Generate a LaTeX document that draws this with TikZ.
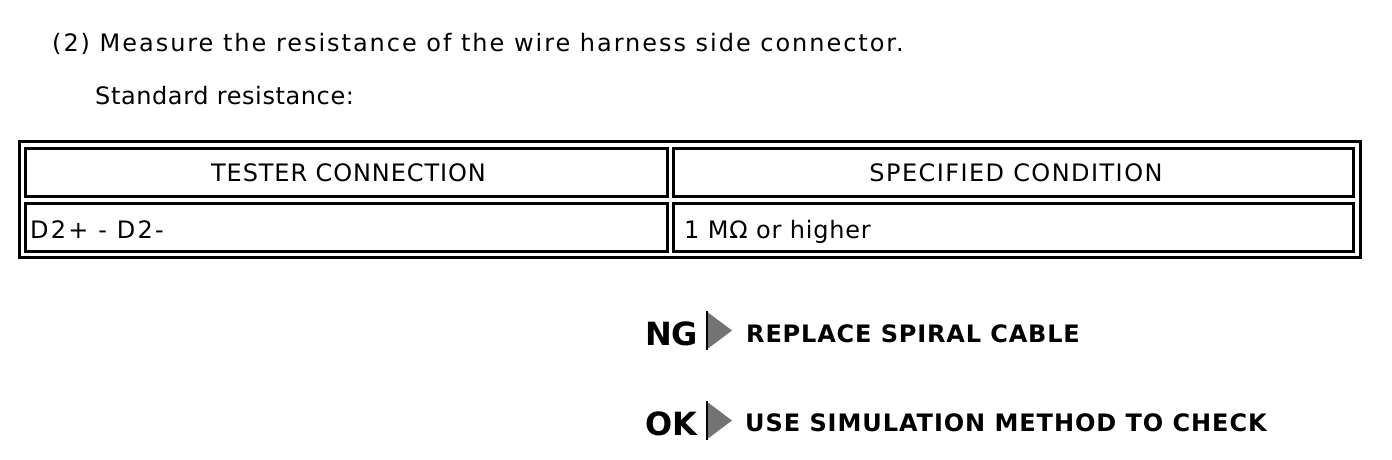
\documentclass[tikz,border=0pt]{standalone}
\usepackage{fontspec}
\setmainfont{DejaVu Sans}
\newcommand{\ls}[1]{\addfontfeature{LetterSpace=#1}}
\begin{document}
\begin{tikzpicture}[x=1pt,y=-1pt,
  txt/.style={inner sep=0pt,anchor=base west,font=\fontsize{24}{28}\selectfont},
  hdr/.style={inner sep=0pt,anchor=base,font=\fontsize{24}{28}\selectfont},
  bld/.style={inner sep=0pt,anchor=base west,font=\fontsize{24}{28}\selectfont\bfseries},
  big/.style={inner sep=0pt,anchor=base west,font=\fontsize{32}{36}\selectfont\bfseries},
  cell/.style={draw,line width=3pt},
  tri/.style={fill=black!55,draw=none}]
\useasboundingbox (0,0) rectangle (1392,460);
% texts above
\node[txt] (t1) at (52,52) {\ls{8.2}(2) Measure the resistance of the wire harness side connector.};
\node[txt] (t2) at (95,104) {\ls{2.5}Standard resistance:};
% table
\draw[cell] (19.5,141.5) rectangle (1360.5,257.5);
\draw[cell] (25.5,148) rectangle (667,196.5);
\draw[cell] (673.5,148) rectangle (1353.5,196.5);
\draw[cell] (25.5,203) rectangle (667,251.5);
\draw[cell] (673.5,203) rectangle (1353.5,251.5);
\node[hdr] (h1) at (348.5,181) {\ls{3.7}TESTER CONNECTION};
\node[hdr] (h2) at (1016,181) {\ls{6}SPECIFIED CONDITION};
\node[txt] (c1) at (30,238) {\ls{9.3}D2+ - D2-};
\node[txt] (c2) at (684,238) {\ls{3.3}1 MΩ or higher};
% results
\node[big] (ng) at (645,345) {NG};
\fill[tri] (706,311) -- (732,330.5) -- (706,350) -- cycle;
\draw[line width=2pt] (707,311) -- (707,350);
\node[bld] (ngt) at (746,342) {\ls{3.5}REPLACE SPIRAL CABLE};
\node[big] (ok) at (645,435) {OK};
\fill[tri] (706,401) -- (732,420.5) -- (706,440) -- cycle;
\draw[line width=2pt] (707,401) -- (707,440);
\node[bld] (okt) at (745,431) {\ls{3.9}USE SIMULATION METHOD TO CHECK};
\end{tikzpicture}
\end{document}
